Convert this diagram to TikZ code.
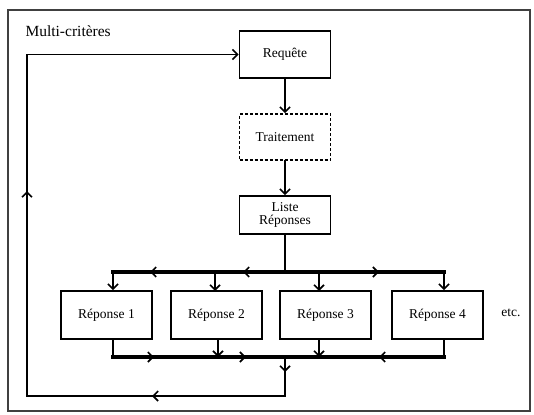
\documentclass[tikz,border=0pt]{standalone}
\usepackage{fontspec}
\setmainfont{Liberation Serif}
\usetikzlibrary{arrows.meta,decorations.markings}
\begin{document}
\begin{tikzpicture}[x=1pt,y=1pt,
  box/.style={draw, line width=1.8pt, minimum width=91pt, minimum height=47pt, inner sep=0pt,
    font=\fontsize{13.5}{13}\selectfont, align=center},
  tip/.style={-{Straight Barb[length=5pt,width=10pt,line width=1.6pt]}},
  ln/.style={line width=1.8pt, line cap=rect, line join=miter},
  bus/.style={line width=3.6pt, line cap=rect, line join=miter},
  mid/.style={postaction={decorate,decoration={markings,
    mark=at position #1 with {\arrow{Straight Barb[length=5pt,width=10pt,line width=1.6pt]}}}}}]
\useasboundingbox (0,0) rectangle (534,-414);
\draw[line width=1.4pt, black!75] (8,-10) rectangle (530,-411);
\node[anchor=base west, font=\fontsize{15.5}{18}\selectfont] (title) at (22,-37) {Multi-critères};
\node[box] (req) at (285,-54.5) {Requête};
\node[box, dash pattern=on 3pt off 2pt, minimum height=46pt] (trait) at (285,-137) {Traitement};
\node[box, minimum height=38pt] (liste) at (285,-215) {Liste\\Réponses};
\node[box, minimum height=48pt] (r1) at (106.5,-315) {Réponse 1};
\node[box, minimum height=48pt] (r2) at (216.5,-315) {Réponse 2};
\node[box, minimum height=48pt] (r3) at (325.5,-315) {Réponse 3};
\node[box, minimum height=48pt] (r4) at (437.5,-315) {Réponse 4};
\node[font=\fontsize{13.5}{16}\selectfont] (etc) at (511,-313) {etc.};
% bus coordinates
\coordinate (tb) at (285,-272);
\coordinate (tl) at (113,-272);
\coordinate (tr) at (444,-272);
\coordinate (bb) at (285,-357);
\coordinate (bl) at (113,-357);
\coordinate (br) at (444,-357);
\coordinate (e1) at (285,-396);
\coordinate (e2) at (27,-396);
\coordinate (e3) at (27,-54.5);
% vertical chain
\draw[ln,tip] (req) -- (trait);
\draw[ln,tip] (trait) -- (liste);
\draw[ln] (liste) -- (tb);
% top bus
\draw[bus, mid=42pt, mid=135pt] (tb) -- (tl);
\draw[bus, mid=94pt] (tb) -- (tr);
\draw[ln,tip] (tl) -- (tl |- r1.north);
\draw[ln,tip] (215,-272) -- (215,-291);
\draw[ln,tip] (319,-272) -- (319,-291);
\draw[ln,tip] (tr) -- (tr |- r4.north);
% bottom bus
\draw[ln] (r1.south -| bl) -- (bl);
\draw[ln] (r4.south -| br) -- (br);
\draw[bus, mid=41pt, mid=133pt] (bl) -- (bb);
\draw[bus, mid=65pt] (br) -- (bb);
\draw[ln,tip] (218,-339) -- (218,-357);
\draw[ln,tip] (319,-339) -- (319,-357);
% return loop
\draw[ln, tip, mid=15pt, mid=172pt, mid=502pt] (bb) -- (e1) -- (e2) -- (e3) -- (req.west);
\end{tikzpicture}
\end{document}
